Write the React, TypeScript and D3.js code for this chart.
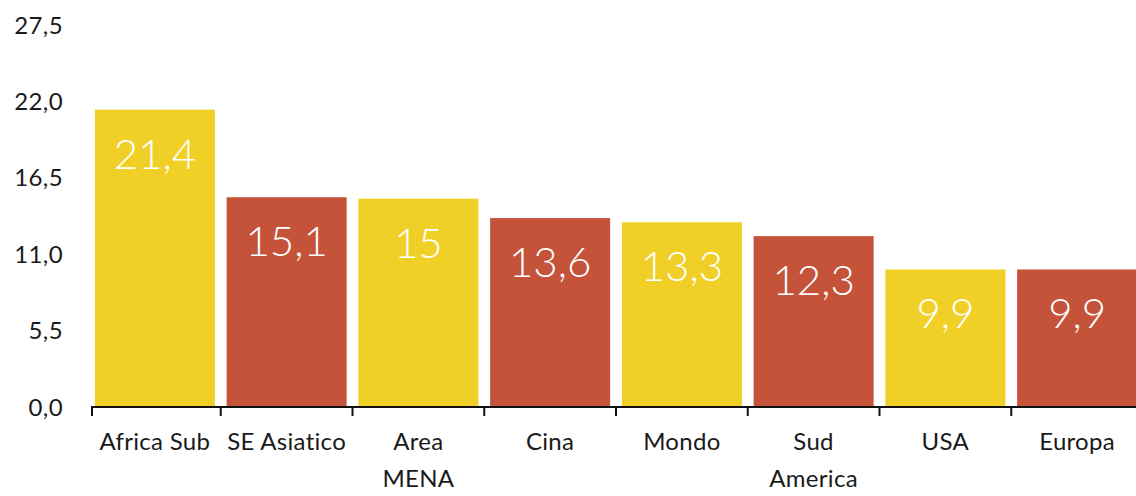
import React from "react";
import * as d3 from "d3";

const categories: string[][] = [["Africa Sub"], ["SE Asiatico"], ["Area", "MENA"], ["Cina"], ["Mondo"], ["Sud", "America"], ["USA"], ["Europa"]];
const values: number[] = [21.4, 15.1, 15, 13.6, 13.3, 12.3, 9.9, 9.9];
const barColors: string[] = ["#F0D027", "#C4533A"];
const yTicks: number[] = [0, 5.5, 11, 16.5, 22, 27.5];

const W = 1136;
const H = 496;

export default function App() {
  const x = d3.scaleBand<number>().domain(d3.range(categories.length)).range([89, 1143]).paddingInner(0.089).paddingOuter(0.0445);
  const band = d3.scaleBand<number>().domain(d3.range(categories.length)).range([89, 1143]);
  const y = d3.scaleLinear().domain([0, 27.5]).range([407, 25]);
  const fmt = (v: number, dec: boolean) => (dec ? v.toFixed(1) : String(v)).replace(".", ",");
  const font = "Lato, 'Open Sans', sans-serif";
  return (
    <svg width={W} height={H} style={{ position: "absolute", left: 0, top: 0 }}>
      <rect width={W} height={H} fill="#fff" />
      {values.map((v, i) => (
        <g key={i}>
          <rect x={x(i)} y={y(v)} width={x.bandwidth()} height={y(0) - y(v)} fill={barColors[i % 2]} />
          <text x={x(i)! + x.bandwidth() / 2} y={y(v) + 59} textAnchor="middle" fill="#fff" fontFamily={font} fontWeight={300} fontSize={42}>
            {fmt(v, false)}
          </text>
        </g>
      ))}
      {yTicks.map((t) => (
        <text key={t} x={63} y={y(t)} dy="0.36em" textAnchor="end" fontFamily={font} fontSize={24} letterSpacing={0.4} fill="#1a1a1a">
          {fmt(t, true)}
        </text>
      ))}
      <line x1={band(0)! + 2} x2={W} y1={y(0)} y2={y(0)} stroke="#111" strokeWidth={2} />
      {d3.range(categories.length + 1).map((i) => {
        const bx = i === 0 ? band(0)! + 3 : band(0)! + band.bandwidth() * i;
        return <line key={i} x1={bx} x2={bx} y1={y(0)} y2={y(0) + 9} stroke="#111" strokeWidth={2} />;
      })}
      {categories.map((lines, i) => (
        <text key={i} textAnchor="middle" fontFamily={font} fontSize={24} fill="#1a1a1a" letterSpacing={0.3}>
          {lines.map((l, j) => (
            <tspan key={j} x={band(i)! + band.bandwidth() / 2} y={450 + j * 37}>
              {l}
            </tspan>
          ))}
        </text>
      ))}
    </svg>
  );
}
